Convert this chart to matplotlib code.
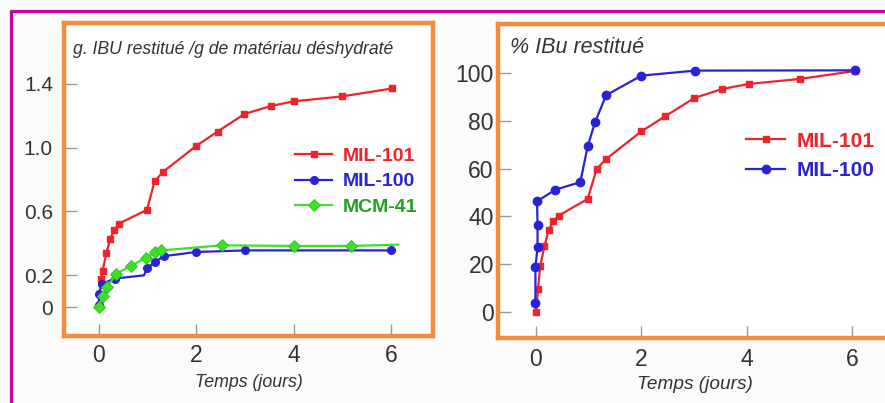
import numpy as np
import matplotlib
matplotlib.use("Agg")
import matplotlib.pyplot as plt
from matplotlib.lines import Line2D

plt.rcParams["font.family"] = ["Liberation Sans", "DejaVu Sans"]

# left panel: g IBU released per g of dehydrated material
mil101_t = [0.05, 0.08, 0.16, 0.24, 0.32, 0.42, 0.99, 1.15, 1.33, 2.0, 2.44, 2.99, 3.53, 4.01, 4.99, 6.02]
mil101_g = [0.18, 0.226, 0.34, 0.43, 0.486, 0.524, 0.61, 0.79, 0.85, 1.01, 1.10, 1.21, 1.26, 1.29, 1.32, 1.37]

mil100_t = [0.0, 0.01, 0.06, 0.34, 0.93, 1.0, 1.16, 1.34, 2.0, 3.0, 6.0]
mil100_g = [0.017, 0.084, 0.147, 0.18, 0.2, 0.245, 0.285, 0.32, 0.346, 0.356, 0.356]

mcm41_t = [0.0, 0.1, 0.18, 0.36, 0.66, 0.97, 1.16, 1.29, 2.53, 4.0, 5.18, 6.15]
mcm41_g = [0.0, 0.073, 0.126, 0.21, 0.258, 0.31, 0.346, 0.356, 0.388, 0.384, 0.384, 0.392]

# right panel: % IBu released
r101_t = [0.0, 0.04, 0.08, 0.16, 0.24, 0.32, 0.43, 0.98, 1.15, 1.33, 2.0, 2.45, 3.0, 3.53, 4.03, 5.0, 6.04]
r101_p = [0.0, 9.8, 19.1, 27.5, 34.2, 37.9, 40.3, 47.3, 59.8, 64.0, 75.6, 81.9, 89.5, 93.3, 95.4, 97.5, 100.8]

r100_t = [-0.01, -0.01, 0.03, 0.03, 0.02, 0.37, 0.84, 0.98, 1.12, 1.33, 2.0, 3.02, 6.04]
r100_p = [3.8, 19.0, 27.0, 36.3, 46.3, 51.2, 54.3, 69.3, 79.4, 90.7, 98.9, 101.0, 101.1]

RED = "#f0222a"
BLUE = "#2a22d8"
GREEN = "#3ee02a"
GREEN_TXT = "#23a024"
ORANGE = "#f78a3c"
MAGENTA = "#c8009c"
TICK_GREY = "#9a9a9a"
TXT = "#333333"

W, H = 885, 403
fig = plt.figure(figsize=(W / 100, H / 100), dpi=100)
fig.patch.set_facecolor("#fbfbfb")


def px_axes(x0, y0, x1, y1):
    return fig.add_axes([x0 / W, 1 - y1 / H, (x1 - x0) / W, (y1 - y0) / H])


def style_axes(ax):
    ax.set_facecolor("white")
    for sp in ax.spines.values():
        sp.set_color(ORANGE)
        sp.set_linewidth(3.2)
    ax.tick_params(direction="in", length=9, width=1, color=TICK_GREY,
                   labelsize=15, labelcolor=TXT, pad=8)
    ax.tick_params(axis="x", labelsize=16.5, pad=6)
    ax.tick_params(top=False, right=False)


# magenta page border
fig.add_artist(Line2D([10.5 / W, 10.5 / W], [0, 1 - 10 / H], color=MAGENTA, lw=2.3,
                      solid_capstyle="butt"))
fig.add_artist(Line2D([9.5 / W, 1], [1 - 11 / H, 1 - 11 / H], color=MAGENTA, lw=2.3,
                      solid_capstyle="butt"))

# ---- left panel
ax1 = px_axes(64, 23, 433, 336)
style_axes(ax1)
ax1.plot(mil101_t, mil101_g, "-s", color=RED, lw=1.6, ms=4.5, label="MIL-101")
ax1.plot(mil100_t, mil100_g, "-o", color=BLUE, lw=1.6, ms=5.5, label="MIL-100",
         markevery=[0, 1, 2, 3, 5, 6, 7, 8, 9, 10])
ax1.plot(mcm41_t, mcm41_g, "-D", color=GREEN, lw=1.6, ms=6.5, mec="#30c020", mew=0.6,
         label="MCM-41", markevery=list(range(len(mcm41_t) - 1)))
ax1.set_xlim(-0.71, 6.86)
ax1.set_ylim(-0.18, 1.78)
ax1.set_xticks([0, 2, 4, 6])
ax1.set_yticks([0, 0.2, 0.6, 1.0, 1.4])
ax1.set_yticklabels(["0", "0.2", "0.6", "1.0", "1.4"])
ax1.set_xlabel("Temps (jours)", style="italic", fontsize=12.8, color=TXT, labelpad=5)
ax1.text(0.024, 0.914, "g. IBU restitué /g de matériau déshydraté", transform=ax1.transAxes,
         style="italic", fontsize=12.7, color=TXT, va="center", ha="left")
leg1 = ax1.legend(loc="upper left", bbox_to_anchor=(0.6, 0.635), frameon=False,
                  prop={"weight": "bold", "size": 14}, handlelength=1.9,
                  handletextpad=0.55, labelspacing=0.42, borderpad=0)
for t, c in zip(leg1.get_texts(), [RED, BLUE, GREEN_TXT]):
    t.set_color(c)

# ---- right panel
ax2 = px_axes(498, 24, 892, 338)
style_axes(ax2)
ax2.plot(r101_t, r101_p, "-s", color=RED, lw=1.6, ms=5, label="MIL-101")
ax2.plot(r100_t, r100_p, "-o", color=BLUE, lw=1.6, ms=6, label="MIL-100")
ax2.set_xlim(-0.72, 6.75)
ax2.set_ylim(-10.9, 120.5)
ax2.set_xticks([0, 2, 4, 6])
ax2.set_yticks([0, 20, 40, 60, 80, 100])
ax2.tick_params(axis="y", labelsize=16.5, pad=3)
ax2.tick_params(axis="x", pad=7)
ax2.set_xlabel("Temps (jours)", style="italic", fontsize=13.7, color=TXT, labelpad=4)
ax2.text(0.03, 0.924, "% IBu restitué", transform=ax2.transAxes,
         style="italic", fontsize=15.5, color=TXT, va="center", ha="left")
leg2 = ax2.legend(loc="upper left", bbox_to_anchor=(0.604, 0.69), frameon=False,
                  prop={"weight": "bold", "size": 15}, handlelength=1.85,
                  handletextpad=0.55, labelspacing=0.5, borderpad=0)
for t, c in zip(leg2.get_texts(), [RED, BLUE]):
    t.set_color(c)

fig.savefig("out.png", dpi=100, facecolor=fig.get_facecolor())
